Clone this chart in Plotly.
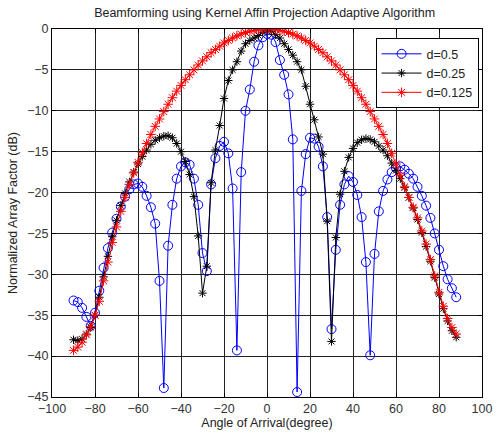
import plotly.graph_objects as go

angles = [-90, -88, -86, -84, -82, -80, -78, -76, -74, -72, -70, -68, -66, -64, -62, -60,
          -58, -56, -54, -52, -50, -48, -46, -44, -42, -40, -38, -36, -34, -32, -30, -28,
          -26, -24, -22, -20, -18, -16, -14, -12, -10, -8, -6, -4, -2, 0, 2, 4, 6, 8, 10,
          12, 14, 16, 18, 20, 22, 24, 26, 28, 30, 32, 34, 36, 38, 40, 42, 44, 46, 48, 50,
          52, 54, 56, 58, 60, 62, 64, 66, 68, 70, 72, 74, 76, 78, 80, 82, 84, 86, 88]

af_d05 = [-33.2, -33.4, -34.1, -35.2, -36.3, -34.7, -32.0, -29.2, -26.8, -24.9, -23.2, -21.7,
          -20.5, -19.6, -19.0, -18.9, -19.3, -20.4, -21.8, -23.8, -30.8, -43.9, -26.5, -21.5,
          -18.3, -16.8, -16.3, -16.6, -18.3, -21.5, -27.4, -29.6, -19.0, -15.8, -14.3, -13.8,
          -15.2, -19.5, -39.3, -17.5, -10.0, -7.4, -4.0, -2.0, -1.0, -0.6, -0.7, -1.6, -3.8,
          -5.6, -8.0, -13.5, -44.4, -19.8, -15.3, -13.3, -13.4, -14.4, -16.8, -23.0, -36.7,
          -27.0, -21.5, -19.0, -18.0, -18.7, -20.3, -23.0, -28.5, -39.9, -27.5, -22.3, -19.8,
          -18.4, -17.5, -17.0, -16.8, -17.2, -17.7, -18.3, -19.3, -20.4, -21.6, -23.1, -25.0,
          -27.0, -29.0, -30.6, -31.7, -32.8]

af_d025 = [-38.0, -38.1, -37.9, -37.3, -36.5, -35.0, -32.8, -30.3, -27.8, -25.4, -23.4, -21.6,
           -20.1, -18.7, -17.5, -16.5, -15.6, -14.8, -14.1, -13.6, -13.3, -13.1, -13.05, -13.3,
           -14.0, -15.0, -16.2, -17.8, -20.5, -25.3, -32.3, -29.0, -18.8, -14.8, -11.8, -8.5,
           -6.3, -5.0, -4.0, -2.7, -1.8, -1.4, -1.1, -0.8, -0.4, -0.2, -0.3, -0.7, -1.1, -1.8,
           -2.5, -3.2, -4.0, -5.0, -7.0, -9.2, -11.1, -13.2, -15.3, -23.5, -38.2, -25.5, -20.2,
           -17.4, -15.7, -14.6, -13.9, -13.55, -13.4, -13.5, -13.8, -14.3, -14.8, -15.5, -16.4,
           -17.3, -18.3, -19.4, -20.6, -21.9, -23.3, -24.9, -26.6, -28.4, -30.4, -32.4, -34.2,
           -35.7, -36.9, -37.7]

af_d0125 = [-39.3, -38.9, -38.3, -37.4, -36.4, -35.0, -33.3, -30.8, -28.5, -26.1, -24.2, -22.3,
            -20.6, -19.0, -17.6, -16.3, -15.1, -14.0, -12.9, -11.9, -11.0, -10.1, -9.2, -8.4,
            -7.6, -6.9, -6.2, -5.6, -5.0, -4.4, -3.9, -3.4, -2.9, -2.5, -2.1, -1.7, -1.4, -1.1,
            -0.84, -0.62, -0.43, -0.27, -0.16, -0.07, -0.02, 0.0, -0.02, -0.07, -0.16, -0.27,
            -0.43, -0.62, -0.84, -1.1, -1.4, -1.7, -2.1, -2.5, -2.9, -3.4, -3.9, -4.4, -5.0,
            -5.6, -6.2, -6.9, -7.6, -8.4, -9.2, -10.1, -11.0, -11.9, -12.9, -14.0, -15.2, -16.5,
            -17.9, -19.3, -20.6, -21.8, -23.1, -24.7, -26.3, -28.2, -30.2, -32.2, -33.9, -35.4,
            -36.5, -37.3]

x_ticks = [-100, -80, -60, -40, -20, 0, 20, 40, 60, 80, 100]
y_ticks = [-45, -40, -35, -30, -25, -20, -15, -10, -5, 0]

FONT = "Arial, Liberation Sans, sans-serif"

fig = go.Figure()
fig.add_trace(go.Scatter(
    x=angles, y=af_d05, name="d=0.5", mode="lines+markers",
    line=dict(color="#0000ff", width=1),
    marker=dict(symbol="circle-open", size=9, color="#0000ff", line=dict(width=1, color="#0000ff"))))
fig.add_trace(go.Scatter(
    x=angles, y=af_d025, name="d=0.25", mode="lines+markers",
    line=dict(color="#000000", width=1),
    marker=dict(symbol="asterisk-open", size=7, color="#000000", line=dict(width=1, color="#000000"))))
fig.add_trace(go.Scatter(
    x=angles, y=af_d0125, name="d=0.125", mode="lines+markers",
    line=dict(color="#ff0000", width=1),
    marker=dict(symbol="asterisk-open", size=8, color="#ff0000", line=dict(width=1, color="#ff0000"))))

axis_common = dict(
    showline=True, linecolor="#000000", linewidth=1, mirror="ticks",
    showgrid=True, gridcolor="#222222", gridwidth=1, zeroline=False,
    ticks="inside", ticklen=4, tickcolor="#000000",
    tickfont=dict(family=FONT, size=12.5, color="#333333"),
)

fig.update_layout(
    width=504, height=440,
    margin=dict(l=52, r=12, t=29, b=39),
    paper_bgcolor="#ffffff", plot_bgcolor="#ffffff",
    font=dict(family=FONT, size=12, color="#222222"),
    title=dict(text="Beamforming using Kernel Affin Projection Adaptive Algorithm",
               x=0.525, xanchor="center", y=0.972, yanchor="middle",
               font=dict(family=FONT, size=12.5, color="#222222")),
    xaxis=dict(range=[-100, 100], tickvals=x_ticks,
               title=dict(text="Angle of Arrival(degree)", standoff=3,
                          font=dict(family=FONT, size=12.5, color="#222222")),
               **axis_common),
    yaxis=dict(range=[-45, 0], tickvals=y_ticks,
               title=dict(text="Normalized Array Factor (dB)", standoff=6,
                          font=dict(family=FONT, size=12.5, color="#222222")),
               **axis_common),
    legend=dict(x=0.992, xanchor="right", y=0.975, yanchor="top",
                bgcolor="#ffffff", bordercolor="#000000", borderwidth=1,
                font=dict(family=FONT, size=12.5, color="#222222"),
                tracegroupgap=0, itemwidth=40),
    showlegend=True,
)

fig.write_html("out.html")
